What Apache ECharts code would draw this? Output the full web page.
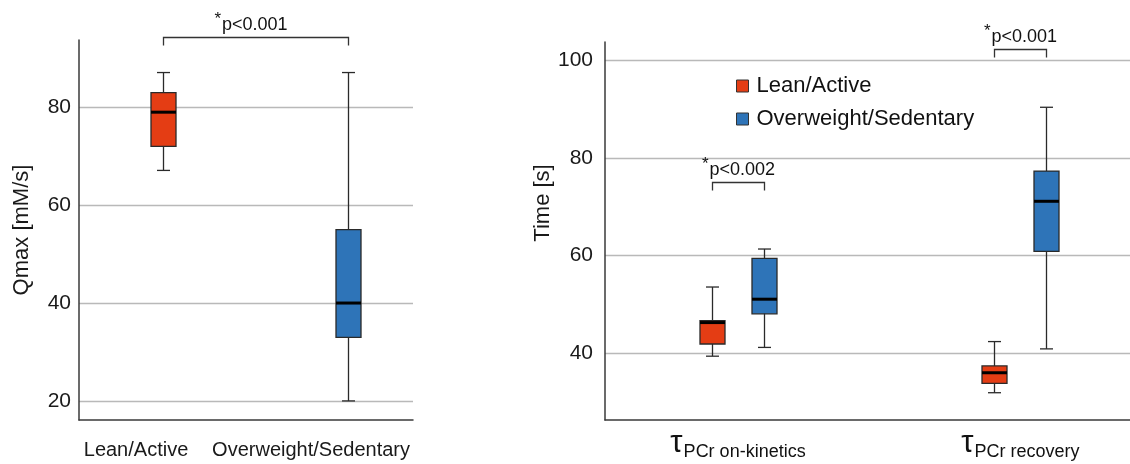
<!DOCTYPE html>
<html><head><meta charset="utf-8">
<script src="https://cdn.jsdelivr.net/npm/echarts@6/dist/echarts.min.js"></script>
<style>html,body{margin:0;padding:0;background:#fff}#c{width:1130px;height:464px}</style>
</head><body><div id="c"></div>
<script>
// ---- data (min, Q1, median, Q3, max) ----
const qmaxGroups = ['Lean/Active', 'Overweight/Sedentary'];
const qmaxLean = [67.1, 72.0, 79.0, 83.0, 87.1];
const qmaxOver = [20.0, 33.0, 40.0, 55.0, 87.1];
const qmaxTicks = [20, 40, 60, 80];
const qmaxP = '*p<0.001';

const timeCategories = ['on-kinetics', 'recovery'];
const timeLean = [[39.3, 41.8, 46.2, 46.6, 53.5], [31.8, 33.7, 35.9, 37.3, 42.3]];
const timeOver = [[41.1, 48.0, 51.0, 59.4, 61.3], [40.8, 60.8, 71.1, 77.3, 90.4]];
const timeTicks = [40, 60, 80, 100];
const timeP = ['*p<0.002', '*p<0.001'];

// ---- style ----
const FONT = '"Liberation Sans", Arial, sans-serif';
const RED = '#E43D14';
const BLUE = '#2E74B8';
const EDGE = '#2a2a2a';
const BOX_W = 25, CAP_W = 13, SERIES_OFF = 26;

function boxRenderer(offset) {
  return function (params, api) {
    const xv = api.value(0);
    const x = Math.round(api.coord([xv, 0])[0] + offset) + 0.5;
    const y = v => api.coord([xv, v])[1];
    const yMin = y(api.value(1)), yQ1 = y(api.value(2)), yMed = y(api.value(3)),
          yQ3 = y(api.value(4)), yMax = y(api.value(5));
    const color = api.visual('color');
    const st = { stroke: EDGE, lineWidth: 1.3 };
    return { type: 'group', children: [
      { type: 'line', shape: { x1: x, y1: yMax, x2: x, y2: yMin }, style: st },
      { type: 'line', shape: { x1: x - CAP_W / 2, y1: yMax, x2: x + CAP_W / 2, y2: yMax }, style: st },
      { type: 'line', shape: { x1: x - CAP_W / 2, y1: yMin, x2: x + CAP_W / 2, y2: yMin }, style: st },
      { type: 'rect', shape: { x: x - BOX_W / 2, y: yQ3, width: BOX_W, height: yQ1 - yQ3 },
        style: { fill: color, stroke: EDGE, lineWidth: 1.3 } },
      { type: 'line', shape: { x1: x - BOX_W / 2, y1: yMed, x2: x + BOX_W / 2, y2: yMed },
        style: { stroke: '#000', lineWidth: 3 } }
    ]};
  };
}

const yAxisCommon = (ticks, margin) => ({
  type: 'value',
  axisLine: { show: true, lineStyle: { color: '#3a3a3a', width: 1.5 } },
  axisTick: { show: false, customValues: ticks },
  axisLabel: { customValues: ticks, fontSize: 21, color: '#1a1a1a', fontFamily: FONT, margin: margin },
  splitLine: { show: true, lineStyle: { color: '#b9b9b9', width: 1.3 } },
  nameLocation: 'middle'
});

const chart = echarts.init(document.getElementById('c'));
chart.setOption({
  animation: false,
  backgroundColor: '#fff',
  textStyle: { fontFamily: FONT },
  grid: [
    { left: 79, right: 1130 - 413, top: 40, bottom: 44 },
    { left: 605, right: 0, top: 42, bottom: 44 }
  ],
  xAxis: [
    { gridIndex: 0, type: 'value', min: 0.546, max: 2.351,
      axisLine: { show: true, onZero: false, lineStyle: { color: '#3a3a3a', width: 1.5 } },
      axisTick: { show: false }, axisLabel: { show: false }, splitLine: { show: false } },
    { gridIndex: 1, type: 'value', min: 0.529, max: 2.388,
      axisLine: { show: true, onZero: false, lineStyle: { color: '#3a3a3a', width: 1.5 } },
      axisTick: { show: false, customValues: [1, 2] },
      axisLabel: {
        customValues: [1, 2], margin: 5,
        formatter: v => '{t|τ}{s|PCr ' + timeCategories[Math.round(v) - 1] + '}',
        rich: {
          t: { fontSize: 31, lineHeight: 36, color: '#111', fontFamily: FONT },
          s: { fontSize: 18, lineHeight: 18, padding: [18, 0, 0, 1], color: '#111', fontFamily: FONT }
        }
      },
      splitLine: { show: false } }
  ],
  yAxis: [
    Object.assign(yAxisCommon(qmaxTicks, 8), { gridIndex: 0, min: 16.1, max: 93.75,
      name: 'Qmax [mM/s]', nameGap: 46,
      nameTextStyle: { fontSize: 22, color: '#1a1a1a', fontFamily: FONT } }),
    Object.assign(yAxisCommon(timeTicks, 12), { gridIndex: 1, min: 26.2, max: 103.8,
      name: 'Time [s]', nameGap: 51,
      nameTextStyle: { fontSize: 22, color: '#1a1a1a', fontFamily: FONT, padding: [0, 0, 0, 56] } })
  ],
  legend: {
    left: 731, top: 70, orient: 'vertical', icon: 'rect',
    itemWidth: 12, itemHeight: 12, itemGap: 11,
    data: ['Lean/Active', 'Overweight/Sedentary'],
    itemStyle: { borderColor: '#333', borderWidth: 1 },
    textStyle: { fontSize: 22, lineHeight: 22, color: '#111', fontFamily: FONT, padding: [0, 0, 0, 3] }
  },
  series: [
    { type: 'custom', name: 'Lean/Active', xAxisIndex: 0, yAxisIndex: 0,
      itemStyle: { color: RED }, encode: { x: 0, y: [1, 2, 3, 4, 5] },
      data: [[1].concat(qmaxLean)], renderItem: boxRenderer(0) },
    { type: 'custom', name: 'Overweight/Sedentary', xAxisIndex: 0, yAxisIndex: 0,
      itemStyle: { color: BLUE }, encode: { x: 0, y: [1, 2, 3, 4, 5] },
      data: [[2].concat(qmaxOver)], renderItem: boxRenderer(0) },
    { type: 'custom', name: 'Lean/Active', xAxisIndex: 1, yAxisIndex: 1,
      itemStyle: { color: RED }, encode: { x: 0, y: [1, 2, 3, 4, 5] },
      data: timeLean.map((d, i) => [i + 1].concat(d)), renderItem: boxRenderer(-SERIES_OFF) },
    { type: 'custom', name: 'Overweight/Sedentary', xAxisIndex: 1, yAxisIndex: 1,
      itemStyle: { color: BLUE }, encode: { x: 0, y: [1, 2, 3, 4, 5] },
      data: timeOver.map((d, i) => [i + 1].concat(d)), renderItem: boxRenderer(SERIES_OFF) }
  ]
});

// ---- annotations (brackets, p-values, category labels) ----
function px(gridIdx, x) {
  return chart.convertToPixel({ xAxisIndex: gridIdx, yAxisIndex: gridIdx }, [x, 50])[0];
}
function bracket(x1, x2, y, text, dx) {
  x1 = Math.round(x1) + 0.5; x2 = Math.round(x2) + 0.5;
  return [
    { type: 'polyline', silent: true,
      shape: { points: [[x1, y + 8], [x1, y], [x2, y], [x2, y + 8]] },
      style: { stroke: '#333', lineWidth: 1.3, fill: null } },
    { type: 'text', silent: true, x: (x1 + x2) / 2 + dx, y: y - 12.5,
      style: { text: '{a|' + text.charAt(0) + '}{b|' + text.slice(1) + '}',
        align: 'center', verticalAlign: 'middle',
        rich: {
          a: { fontSize: 17, fill: '#111', fontFamily: FONT, padding: [0, 1, 12, 0] },
          b: { fontSize: 18, fill: '#111', fontFamily: FONT }
        } } }
  ];
}
const g = [];
g.push(...bracket(px(0, 1), px(0, 2), 37.5, qmaxP, -5));
const bracketY = [182.5, 49.5];
timeP.forEach((t, i) => {
  g.push(...bracket(px(1, i + 1) - SERIES_OFF, px(1, i + 1) + SERIES_OFF, bracketY[i], t, 0));
});
const labelShift = [-27, -37];
qmaxGroups.forEach((name, i) => {
  g.push({ type: 'text', silent: true, x: px(0, i + 1) + labelShift[i], y: 450,
    style: { text: name, align: 'center', verticalAlign: 'middle',
      fontSize: 20, fill: '#1a1a1a', fontFamily: FONT } });
});
chart.setOption({ graphic: g });
</script>
</body></html>
